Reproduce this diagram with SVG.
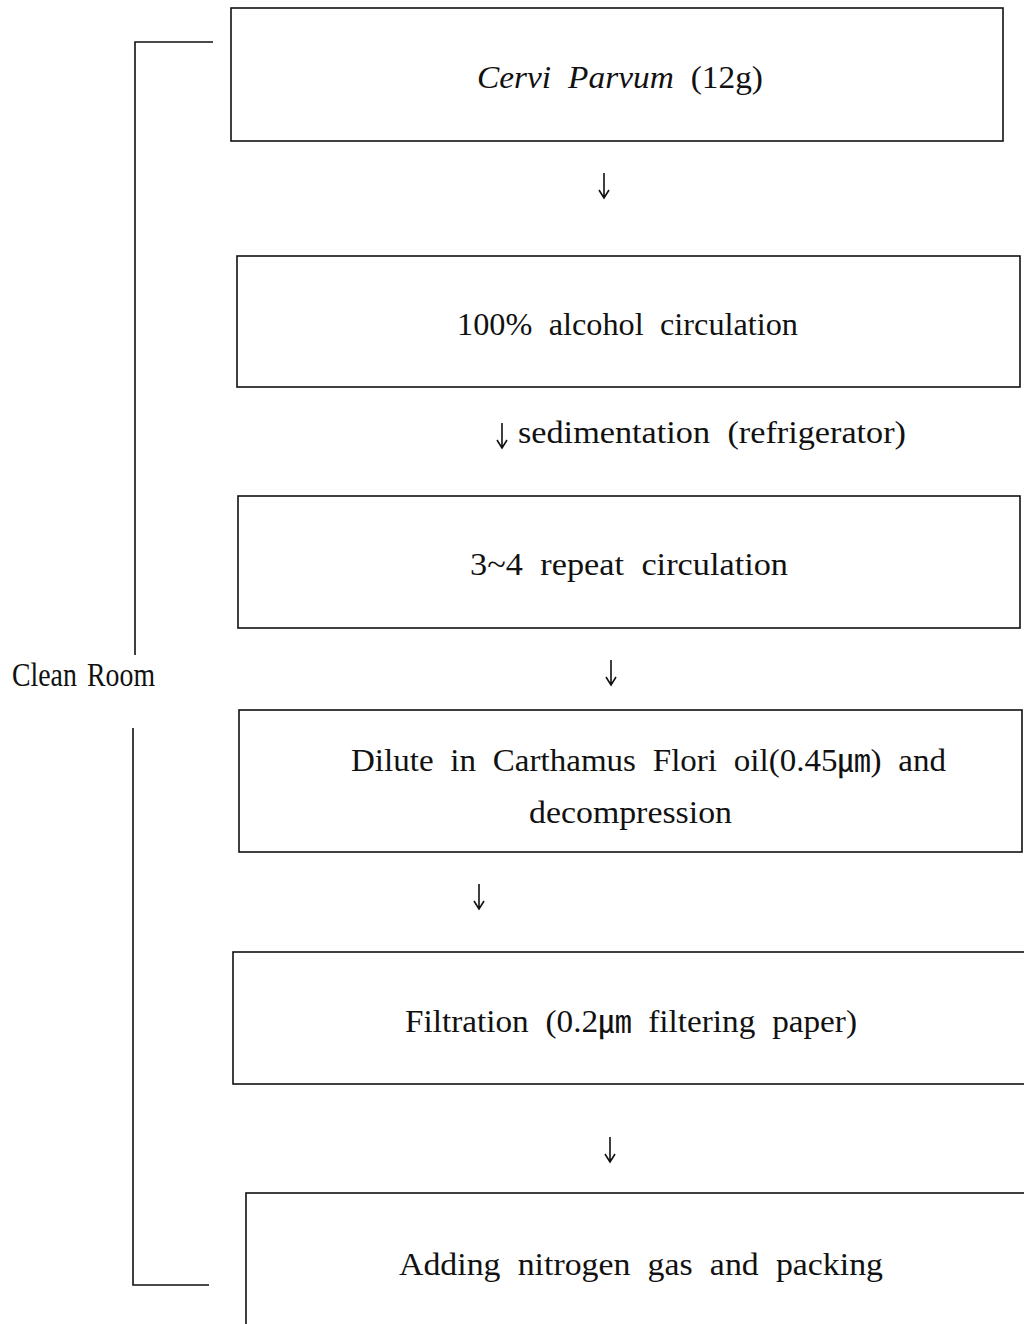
<svg xmlns="http://www.w3.org/2000/svg" width="1024" height="1324" viewBox="0 0 1024 1324">
  <style>
    .box { fill: none; stroke: #111; stroke-width: 1.6; }
    .lbl { font-family: "Liberation Serif", "Noto Sans CJK KR", serif; font-size: 31px; fill: #111; word-spacing: 8px; }
    .side { font-family: "Liberation Serif", "Noto Serif", serif; font-size: 34px; fill: #111; word-spacing: 4px; }
    .bracket { fill: none; stroke: #111; stroke-width: 1.6; }
    .arrow { fill: none; stroke: #111; stroke-width: 1.6; }
  </style>
  <rect width="1024" height="1324" fill="#fff"/>

  <!-- clean room bracket -->
  <g id="clean-room">
    <polyline class="bracket" points="213,42 135,42 135,655"/>
    <polyline class="bracket" points="133,728 133,1285 209,1285"/>
    <text class="side" x="12" y="686" textLength="143" lengthAdjust="spacingAndGlyphs">Clean Room</text>
  </g>

  <g id="step-raw">
    <rect class="box" x="231" y="8" width="772" height="133"/>
    <text class="lbl" x="477" y="88" textLength="286" lengthAdjust="spacingAndGlyphs"><tspan font-style="italic">Cervi Parvum</tspan> (12g)</text>
  </g>

  <g id="step-alcohol">
    <rect class="box" x="237" y="256" width="783" height="131"/>
    <text class="lbl" x="457" y="335" textLength="341" lengthAdjust="spacingAndGlyphs">100% alcohol circulation</text>
  </g>

  <g id="step-repeat">
    <rect class="box" x="238" y="496" width="782" height="132"/>
    <text class="lbl" x="470" y="575" textLength="318" lengthAdjust="spacingAndGlyphs">3~4 repeat circulation</text>
  </g>

  <g id="step-dilute">
    <rect class="box" x="239" y="710" width="783" height="142"/>
    <text class="lbl" x="351" y="771" textLength="595" lengthAdjust="spacingAndGlyphs">Dilute in Carthamus Flori oil(0.45㎛) and</text>
    <text class="lbl" x="529" y="823" textLength="203" lengthAdjust="spacingAndGlyphs">decompression</text>
  </g>

  <g id="step-filtration">
    <rect class="box" x="233" y="952" width="800" height="132"/>
    <text class="lbl" x="405" y="1032" textLength="452" lengthAdjust="spacingAndGlyphs">Filtration (0.2㎛ filtering paper)</text>
  </g>

  <g id="step-packing">
    <rect class="box" x="246" y="1193" width="800" height="160"/>
    <text class="lbl" x="399" y="1275" textLength="484" lengthAdjust="spacingAndGlyphs">Adding nitrogen gas and packing</text>
  </g>

  <!-- flow arrows between steps -->
  <g id="connectors">
    <path class="arrow" d="M604 173 V198 M599 190 L604 198 L609 190"/>
    <path class="arrow" d="M502 423 V448 M497 440 L502 448 L507 440"/>
    <text class="lbl" x="518" y="443" textLength="388" lengthAdjust="spacingAndGlyphs">sedimentation (refrigerator)</text>
    <path class="arrow" d="M611 660 V685 M606 677 L611 685 L616 677"/>
    <path class="arrow" d="M479 884 V909 M474 901 L479 909 L484 901"/>
    <path class="arrow" d="M610 1137 V1162 M605 1154 L610 1162 L615 1154"/>
  </g>
</svg>
